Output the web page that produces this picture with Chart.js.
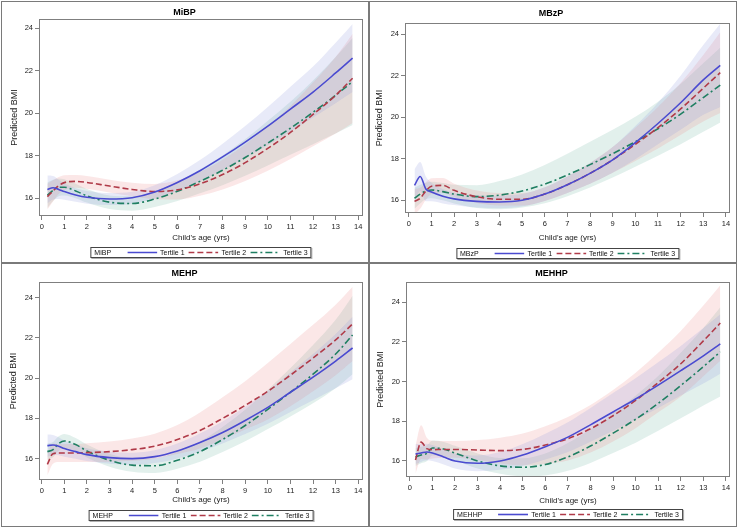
<!DOCTYPE html>
<html>
<head>
<meta charset="utf-8">
<script src="https://cdn.jsdelivr.net/npm/chart.js@4.4.0/dist/chart.umd.min.js"></script>
<style>
    body { margin: 0; background: #fff; font-family: "Liberation Sans", Arial, sans-serif; }
    #page { position: relative; width: 740px; height: 529px; overflow: hidden; }
    .panel { position: absolute; width: 366px; height: 262px; }
    .panel canvas { position: absolute; left: 0; top: 0; }
    .rule { position: absolute; background: #7a7a7a; }
    .legend {
        position: absolute; transform: translateX(-50%); height: 9px;
        border: 1px solid #444; box-shadow: 1px 1px 0 #b0b0b0; background: #fff;
        display: flex; align-items: center; padding: 0 3px;
        font-size: 7px; color: #111; white-space: nowrap;
    }
    .legend .lname { margin-right: 16px; }
    .legend svg { margin-right: 3px; }
    .legend .lt { margin-right: 4px; }
    .legend .lt:last-child { margin-right: 0; }
</style>
</head>
<body>
<div id="page"></div>
<script>
// ---- data ----
var ages = [0.25, 0.5, 0.75, 1, 1.5, 2, 3, 4, 5, 6, 7, 8, 9, 10, 11, 12, 13, 13.75];
var xTickValues = [0, 1, 2, 3, 4, 5, 6, 7, 8, 9, 10, 11, 12, 13, 14];
var yTickValues = [16, 18, 20, 22, 24];
var panelNames = ['MiBP', 'MBzP', 'MEHP', 'MEHHP'];
var seriesNames = ['Tertile 1', 'Tertile 2', 'Tertile 3'];
var xAxisTitle = "Child's age (yrs)";
var yAxisTitle = 'Predicted BMI';

// MiBP
var mibpT1   = [16.42, 16.5, 16.42, 16.32, 16.16, 16.05, 15.97, 16.03, 16.3, 16.75, 17.3, 17.95, 18.65, 19.4, 20.2, 21.0, 21.9, 22.6];
var mibpT1Lo = [15.77, 15.95, 15.97, 15.94, 15.84, 15.75, 15.69, 15.75, 15.98, 16.35, 16.8, 17.33, 17.9, 18.5, 19.15, 19.8, 20.48, 21.0];
var mibpT1Hi = [17.07, 17.05, 16.87, 16.7, 16.48, 16.35, 16.25, 16.31, 16.62, 17.15, 17.8, 18.57, 19.4, 20.3, 21.25, 22.2, 23.32, 24.2];
var mibpT2   = [16.08, 16.35, 16.6, 16.74, 16.8, 16.75, 16.58, 16.42, 16.32, 16.4, 16.68, 17.12, 17.68, 18.35, 19.1, 19.95, 20.85, 21.65];
var mibpT2Lo = [15.48, 15.85, 16.2, 16.39, 16.5, 16.45, 16.28, 16.1, 15.96, 15.95, 16.12, 16.42, 16.82, 17.3, 17.85, 18.45, 19.05, 19.55];
var mibpT2Hi = [16.68, 16.85, 17.0, 17.09, 17.1, 17.05, 16.88, 16.74, 16.68, 16.85, 17.24, 17.82, 18.54, 19.4, 20.35, 21.45, 22.65, 23.75];
var mibpT3   = [16.15, 16.38, 16.52, 16.52, 16.35, 16.12, 15.82, 15.76, 15.97, 16.33, 16.8, 17.32, 17.92, 18.6, 19.3, 20.05, 20.85, 21.5];
var mibpT3Lo = [15.55, 15.88, 16.1, 16.14, 16.01, 15.8, 15.5, 15.42, 15.59, 15.88, 16.24, 16.62, 17.06, 17.55, 18.05, 18.55, 19.05, 19.45];
var mibpT3Hi = [16.75, 16.88, 16.94, 16.9, 16.69, 16.44, 16.14, 16.1, 16.35, 16.78, 17.36, 18.02, 18.78, 19.65, 20.55, 21.55, 22.65, 23.55];

// MBzP
var mbzpT1   = [16.72, 17.15, 16.55, 16.4, 16.2, 16.07, 15.95, 15.92, 16.0, 16.3, 16.75, 17.3, 17.95, 18.78, 19.7, 20.7, 21.8, 22.5];
var mbzpT1Lo = [15.9, 16.45, 15.95, 15.95, 15.85, 15.77, 15.65, 15.62, 15.7, 15.97, 16.35, 16.8, 17.33, 17.98, 18.7, 19.4, 20.12, 20.5];
var mbzpT1Hi = [17.5, 17.85, 17.15, 16.85, 16.55, 16.37, 16.25, 16.22, 16.3, 16.63, 17.15, 17.8, 18.57, 19.58, 20.7, 22.0, 23.48, 24.5];
var mbzpT2   = [15.95, 16.1, 16.45, 16.68, 16.72, 16.48, 16.17, 16.05, 16.05, 16.3, 16.75, 17.3, 17.95, 18.7, 19.5, 20.4, 21.4, 22.15];
var mbzpT2Lo = [15.35, 15.6, 16.03, 16.3, 16.37, 16.16, 15.87, 15.75, 15.75, 15.97, 16.35, 16.8, 17.33, 17.9, 18.5, 19.15, 19.8, 20.2];
var mbzpT2Hi = [16.55, 16.6, 16.87, 17.06, 17.07, 16.8, 16.47, 16.35, 16.35, 16.63, 17.15, 17.8, 18.57, 19.5, 20.5, 21.65, 23.0, 24.1];
var mbzpT3   = [16.1, 16.3, 16.45, 16.5, 16.42, 16.3, 16.18, 16.25, 16.45, 16.78, 17.22, 17.72, 18.25, 18.82, 19.45, 20.15, 20.95, 21.55];
var mbzpT3Lo = [15.6, 15.85, 16.05, 16.1, 16.0, 15.85, 15.63, 15.57, 15.65, 15.86, 16.2, 16.62, 17.1, 17.62, 18.15, 18.7, 19.3, 19.75];
var mbzpT3Hi = [16.6, 16.75, 16.85, 16.9, 16.84, 16.75, 16.73, 16.93, 17.25, 17.7, 18.24, 18.82, 19.4, 20.02, 20.75, 21.6, 22.6, 23.35];

// MEHP
var mehpT1   = [16.65, 16.68, 16.62, 16.5, 16.35, 16.2, 16.05, 16.0, 16.1, 16.38, 16.8, 17.3, 17.9, 18.55, 19.3, 20.05, 20.85, 21.5];
var mehpT1Lo = [16.1, 16.18, 16.17, 16.1, 16.0, 15.88, 15.75, 15.7, 15.78, 16.01, 16.35, 16.75, 17.22, 17.73, 18.32, 18.9, 19.5, 19.95];
var mehpT1Hi = [17.2, 17.18, 17.07, 16.9, 16.7, 16.52, 16.35, 16.3, 16.42, 16.75, 17.25, 17.85, 18.58, 19.37, 20.28, 21.2, 22.2, 23.05];
var mehpT2   = [15.72, 16.25, 16.28, 16.28, 16.28, 16.3, 16.35, 16.45, 16.62, 16.95, 17.4, 18.0, 18.65, 19.35, 20.15, 21.0, 21.9, 22.7];
var mehpT2Lo = [15.17, 15.75, 15.83, 15.83, 15.83, 15.83, 15.85, 15.9, 16.0, 16.23, 16.5, 16.95, 17.45, 17.95, 18.6, 19.35, 20.15, 20.85];
var mehpT2Hi = [16.27, 16.75, 16.73, 16.73, 16.73, 16.77, 16.85, 17.0, 17.24, 17.67, 18.3, 19.05, 19.85, 20.75, 21.7, 22.65, 23.65, 24.55];
var mehpT3   = [16.35, 16.45, 16.75, 16.88, 16.7, 16.38, 15.92, 15.68, 15.65, 15.92, 16.35, 16.95, 17.65, 18.45, 19.3, 20.2, 21.2, 22.15];
var mehpT3Lo = [15.95, 16.07, 16.39, 16.53, 16.37, 16.06, 15.6, 15.35, 15.29, 15.5, 15.85, 16.33, 16.87, 17.47, 18.1, 18.75, 19.5, 20.2];
var mehpT3Hi = [16.75, 16.83, 17.11, 17.23, 17.03, 16.7, 16.24, 16.01, 16.01, 16.34, 16.85, 17.57, 18.43, 19.43, 20.5, 21.65, 22.9, 24.1];

// MEHHP
var mehhpT1   = [16.35, 16.4, 16.45, 16.4, 16.2, 16.0, 15.88, 16.0, 16.3, 16.72, 17.2, 17.82, 18.47, 19.12, 19.82, 20.55, 21.3, 21.9];
var mehhpT1Lo = [15.85, 15.95, 16.03, 16.0, 15.82, 15.62, 15.48, 15.55, 15.75, 16.07, 16.45, 16.97, 17.52, 18.07, 18.67, 19.3, 19.9, 20.4];
var mehhpT1Hi = [16.85, 16.85, 16.87, 16.8, 16.58, 16.38, 16.28, 16.45, 16.85, 17.37, 17.95, 18.67, 19.42, 20.17, 20.97, 21.8, 22.7, 23.4];
var mehhpT2   = [16.05, 16.95, 16.62, 16.57, 16.58, 16.58, 16.55, 16.52, 16.58, 16.8, 17.12, 17.62, 18.28, 19.05, 19.95, 20.9, 22.05, 22.95];
var mehhpT2Lo = [15.35, 16.1, 16.07, 16.12, 16.16, 16.16, 16.05, 15.87, 15.78, 15.85, 16.02, 16.42, 16.98, 17.65, 18.45, 19.25, 20.27, 21.05];
var mehhpT2Hi = [16.75, 17.8, 17.17, 17.02, 17.0, 17.0, 17.05, 17.17, 17.38, 17.75, 18.22, 18.82, 19.58, 20.45, 21.45, 22.55, 23.83, 24.85];
var mehhpT3   = [16.2, 16.3, 16.38, 16.65, 16.6, 16.4, 16.0, 15.75, 15.68, 15.82, 16.2, 16.75, 17.4, 18.1, 18.9, 19.8, 20.75, 21.5];
var mehhpT3Lo = [15.75, 15.88, 15.98, 16.27, 16.24, 16.04, 15.62, 15.35, 15.23, 15.27, 15.5, 15.9, 16.4, 16.92, 17.52, 18.15, 18.8, 19.25];
var mehhpT3Hi = [16.65, 16.72, 16.78, 17.03, 16.96, 16.76, 16.38, 16.15, 16.13, 16.37, 16.9, 17.6, 18.4, 19.28, 20.28, 21.45, 22.7, 23.75];

var panelData = [
    { mid: [mibpT1, mibpT2, mibpT3], lo: [mibpT1Lo, mibpT2Lo, mibpT3Lo], hi: [mibpT1Hi, mibpT2Hi, mibpT3Hi] },
    { mid: [mbzpT1, mbzpT2, mbzpT3], lo: [mbzpT1Lo, mbzpT2Lo, mbzpT3Lo], hi: [mbzpT1Hi, mbzpT2Hi, mbzpT3Hi] },
    { mid: [mehpT1, mehpT2, mehpT3], lo: [mehpT1Lo, mehpT2Lo, mehpT3Lo], hi: [mehpT1Hi, mehpT2Hi, mehpT3Hi] },
    { mid: [mehhpT1, mehhpT2, mehhpT3], lo: [mehhpT1Lo, mehhpT2Lo, mehhpT3Lo], hi: [mehhpT1Hi, mehhpT2Hi, mehhpT3Hi] }
];

// ---- styles / layout ----
var seriesStyle = [
    { line: '#4a4ad0', dash: [], band: 'rgba(140,150,220,0.2)' },
    { line: '#b03a48', dash: [6, 3], band: 'rgba(235,135,135,0.2)' },
    { line: '#1f7f62', dash: [7, 3, 2, 3], band: 'rgba(110,180,160,0.2)' }
];

var canvasW = 366, canvasH = 262, yAxisW = 33;

// plot area box (l,t,r,b) in panel coordinates, plus title / legend spots
var panelLayout = [
    { x: 0,   y: 0,   l: 39, t: 19, r: 363, b: 216, titleY: 13, xTitleY: 238, yTitleX: 15, legendX: 201,   legendTop: 247, xMin: -0.12, xMax: 14.21, yMin: 15.17, yMax: 24.44 },
    { x: 370, y: 0,   l: 35, t: 23, r: 360, b: 213, titleY: 14, xTitleY: 238, yTitleX: 10, legendX: 197.5, legendTop: 248, xMin: -0.17, xMax: 14.18, yMin: 15.39, yMax: 24.54 },
    { x: 0,   y: 264, l: 39, t: 18, r: 363, b: 216, titleY: 10, xTitleY: 236, yTitleX: 14, legendX: 201,   legendTop: 246, xMin: -0.12, xMax: 14.21, yMin: 14.94, yMax: 24.78 },
    { x: 370, y: 264, l: 36, t: 18, r: 360, b: 213, titleY: 10, xTitleY: 237, yTitleX: 11, legendX: 198,   legendTop: 245, xMin: -0.17, xMax: 14.18, yMin: 15.19, yMax: 25.02 }
];

Chart.defaults.font.family = '"Liberation Sans", Arial, sans-serif';
Chart.defaults.color = '#222';

// grey box round the plot area (SAS style)
var plotFrame = {
    id: 'plotFrame',
    afterDraw: function (chart) {
        var a = chart.chartArea;
        var ctx = chart.ctx;
        ctx.save();
        ctx.strokeStyle = '#7f7f7f';
        ctx.lineWidth = 1;
        ctx.strokeRect(Math.round(a.left) + 0.5, Math.round(a.top) + 0.5,
            Math.round(a.right - a.left) - 1, Math.round(a.bottom - a.top) - 1);
        ctx.restore();
    }
};

function toPoints(values) {
    return ages.map(function (a, i) { return { x: a, y: values[i] }; });
}

function addRule(page, left, top, w, h) {
    var d = document.createElement('div');
    d.className = 'rule';
    d.style.left = left + 'px';
    d.style.top = top + 'px';
    d.style.width = w + 'px';
    d.style.height = h + 'px';
    page.appendChild(d);
}

function buildLegend(holder, name, L) {
    var box = document.createElement('div');
    box.className = 'legend';
    box.style.left = L.legendX + 'px';
    box.style.top = L.legendTop + 'px';
    var html = '<span class="lname">' + name + '</span>';
    for (var i = 0; i < seriesNames.length; i++) {
        var st = seriesStyle[i];
        var dash = st.dash.length ? st.dash.join(' ') : 'none';
        html += '<svg width="30" height="5"><line x1="0" y1="2.5" x2="30" y2="2.5" stroke="' + st.line +
            '" stroke-width="1.6" stroke-dasharray="' + dash + '"/></svg>' +
            '<span class="lt">' + seriesNames[i] + '</span>';
    }
    box.innerHTML = html;
    holder.appendChild(box);
}

function buildPanel(page, p) {
    var L = panelLayout[p];
    var D = panelData[p];

    var holder = document.createElement('div');
    holder.className = 'panel';
    holder.style.left = L.x + 'px';
    holder.style.top = L.y + 'px';
    var canvas = document.createElement('canvas');
    canvas.width = canvasW;
    canvas.height = canvasH;
    holder.appendChild(canvas);
    page.appendChild(holder);

    var datasets = [];
    for (var s = 0; s < 3; s++) {
        datasets.push({
            label: seriesNames[s],
            data: toPoints(D.mid[s]),
            borderColor: seriesStyle[s].line,
            borderWidth: 1.6,
            borderDash: seriesStyle[s].dash,
            pointRadius: 0,
            fill: false,
            order: 0,
            cubicInterpolationMode: 'monotone'
        });
    }
    // confidence bands: lower edge + upper edge filled down to it
    for (s = 0; s < 3; s++) {
        var loIndex = datasets.length;
        datasets.push({
            label: seriesNames[s] + ' lower',
            data: toPoints(D.lo[s]),
            borderColor: 'rgba(0,0,0,0)',
            borderWidth: 0,
            pointRadius: 0,
            fill: false,
            order: 1,
            cubicInterpolationMode: 'monotone'
        });
        datasets.push({
            label: seriesNames[s] + ' upper',
            data: toPoints(D.hi[s]),
            borderColor: 'rgba(0,0,0,0)',
            borderWidth: 0,
            pointRadius: 0,
            backgroundColor: seriesStyle[s].band,
            fill: loIndex,
            order: 1,
            cubicInterpolationMode: 'monotone'
        });
    }

    var xAxisH = L.xTitleY + 4.8 + 1 - L.b;
    var padLeft = L.l - yAxisW;

    new Chart(canvas, {
        type: 'line',
        data: { datasets: datasets },
        options: {
            responsive: false,
            animation: false,
            layout: {
                padding: { left: padLeft, right: canvasW - L.r, top: 0, bottom: canvasH - L.b - xAxisH }
            },
            plugins: {
                legend: { display: false },
                tooltip: { enabled: false },
                title: {
                    display: true,
                    text: panelNames[p],
                    color: '#000',
                    font: { size: 9, weight: 'bold', lineHeight: 1.2 },
                    padding: { top: L.titleY - 5.4, bottom: L.t - L.titleY - 5.4 }
                }
            },
            scales: {
                x: {
                    type: 'linear',
                    min: L.xMin,
                    max: L.xMax,
                    afterBuildTicks: function (scale) {
                        scale.ticks = xTickValues.map(function (v) { return { value: v }; });
                    },
                    afterFit: function (scale) { scale.height = xAxisH; },
                    ticks: { autoSkip: false, maxRotation: 0, padding: 2, font: { size: 7.5 }, color: '#222' },
                    grid: { drawOnChartArea: false, tickLength: 4, color: '#7f7f7f' },
                    border: { display: false },
                    title: {
                        display: true, text: xAxisTitle, color: '#222',
                        font: { size: 8, lineHeight: 1.2 }, padding: { top: 0, bottom: 1 }
                    }
                },
                y: {
                    min: L.yMin,
                    max: L.yMax,
                    afterBuildTicks: function (scale) {
                        scale.ticks = yTickValues.map(function (v) { return { value: v }; });
                    },
                    afterFit: function (scale) { scale.width = yAxisW; },
                    ticks: { padding: 2, font: { size: 7.5 }, color: '#222' },
                    grid: { drawOnChartArea: false, tickLength: 4, color: '#7f7f7f' },
                    border: { display: false },
                    title: {
                        display: true, text: yAxisTitle, color: '#222',
                        font: { size: 9, lineHeight: 1.2 }, padding: { top: L.yTitleX - padLeft - 5.4, bottom: 0 }
                    }
                }
            }
        },
        plugins: [plotFrame]
    });

    buildLegend(holder, panelNames[p], L);
}

var page = document.getElementById('page');
for (var p = 0; p < panelLayout.length; p++) {
    buildPanel(page, p);
}
// outer frame and the dividers between panels
addRule(page, 1, 1, 736, 1);
addRule(page, 1, 526, 736, 1);
addRule(page, 1, 1, 1, 526);
addRule(page, 736, 1, 1, 526);
addRule(page, 368, 1, 2, 526);
addRule(page, 1, 262, 736, 2);
</script>
</body>
</html>
